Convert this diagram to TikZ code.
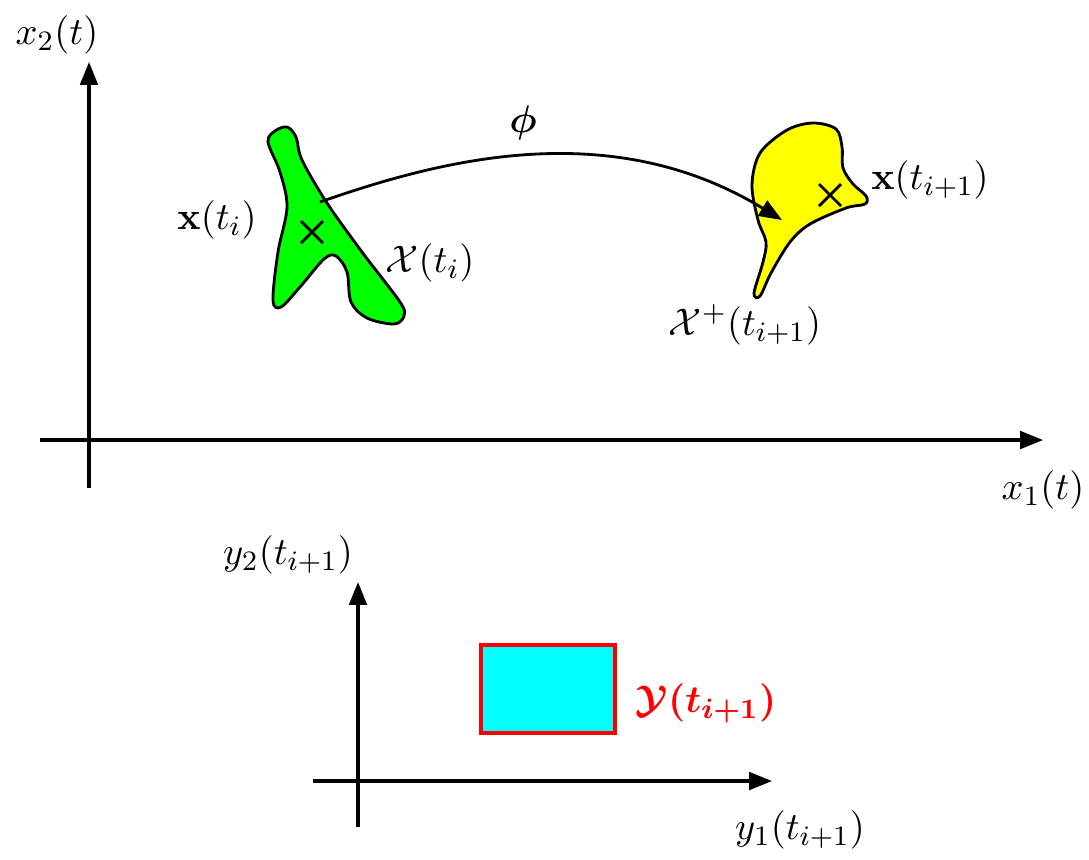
\documentclass[tikz,border=0pt]{standalone}
\usepackage{amsmath}
\usepackage{amssymb}
\usepackage{bm}
\usepackage{xcolor}
\usetikzlibrary{arrows.meta, calc}

\definecolor{setgreen}{RGB}{0,255,0}
\definecolor{setyellow}{RGB}{255,255,0}
\definecolor{setcyan}{RGB}{0,255,255}
\definecolor{setred}{RGB}{255,0,0}

\begin{document}
\begin{tikzpicture}[
    x=0.01cm, y=-0.01cm,
    font=\fontsize{11}{13}\selectfont,
    axis/.style={line width=0.9pt, -{Triangle[length=6.5pt,width=5pt]}},
    blob/.style={line width=0.8pt, draw=black, line join=round},
    arr/.style={line width=0.8pt, -{Triangle[length=6.5pt,width=5pt]}},
    cross/.style={line width=0.8pt},
    lbl/.style={inner sep=1pt},
]
\useasboundingbox (0,0) rectangle (1089,859);

% state space axes
\coordinate (xleft) at (40,440);
\coordinate (xright) at (1043,440);
\coordinate (xbot) at (89,488);
\coordinate (xtop) at (89,62);
\draw[axis] (xleft) -- (xright);
\draw[axis] (xbot) -- (xtop);
\node[lbl] (x2lab) at (57,35) {$x_2(t)$};
\node[lbl] (x1lab) at (1043,490) {$x_1(t)$};

% reachable sets
\draw[blob, fill=setgreen] plot[smooth cycle, tension=0.55] coordinates {
  (287,127) (296,137) (302,160) (327,203) (362,252) (400,302) (404,316)
  (394,324) (367,318) (351,302) (347,272) (336,256) (324,259) (300,287)
  (281,307) (273,300) (278,252) (287,207) (280,172) (268,142) (275,131)};
\draw[blob, fill=setyellow] plot[smooth cycle, tension=0.55] coordinates {
  (813,123) (836,129) (842,147) (843,168) (853,184) (866,196) (865,204)
  (846,208) (810,224) (790,242) (771,273) (760,296) (754,293) (763,262)
  (766,242) (758,220) (752,185) (760,153) (787,130)};

% states
\coordinate (xi) at (312,232);
\coordinate (xnext) at (830,195);
\draw[cross] ($(xi)+(-11,-11)$) -- ($(xi)+(11,11)$);
\draw[cross] ($(xi)+(-11,11)$) -- ($(xi)+(11,-11)$);
\draw[cross] ($(xnext)+(-11,-11)$) -- ($(xnext)+(11,11)$);
\draw[cross] ($(xnext)+(-11,11)$) -- ($(xnext)+(11,-11)$);
\node[lbl] (xilab) at (217,220) {$\mathbf{x}(t_i)$};
\node[lbl] (xnextlab) at (930,180) {$\mathbf{x}(t_{i+1})$};
\node[lbl] (Xilab) at (430,263) {$\mathcal{X}(t_i)$};
\node[lbl] (Xnextlab) at (745,325) {$\mathcal{X}^+(t_{i+1})$};

% flow map
\coordinate (phistart) at (320,202);
\coordinate (phiend) at (782,220);
\draw[arr] (phistart) .. controls (440,160) and (610,115) .. (phiend);
\node[lbl] (philab) at (523,123) {$\bm{\phi}$};

% output space axes
\coordinate (yleft) at (313,781);
\coordinate (yright) at (772,781);
\coordinate (ybot) at (358,827);
\coordinate (ytop) at (358,582);
\draw[axis] (yleft) -- (yright);
\draw[axis] (ybot) -- (ytop);
\node[lbl] (y2lab) at (288,555) {$y_2(t_{i+1})$};
\node[lbl] (y1lab) at (800,830) {$y_1(t_{i+1})$};

% output set
\draw[line width=1pt, draw=setred, fill=setcyan] (481,645) rectangle (615,733);
\node[lbl, text=setred] (Ylab) at (706,703) {$\bm{\mathcal{Y}(t_{i+1})}$};

\end{tikzpicture}
\end{document}
